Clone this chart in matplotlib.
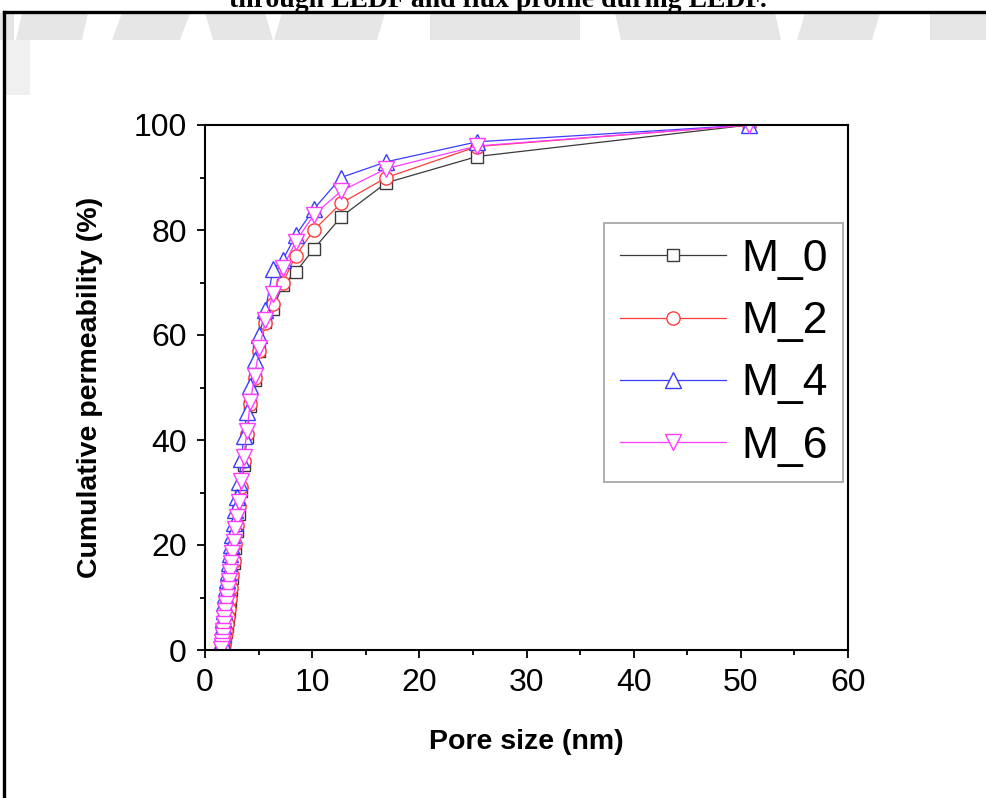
import matplotlib
matplotlib.use('Agg')
import matplotlib.pyplot as plt
from matplotlib.lines import Line2D
from matplotlib.patches import Polygon

plt.rcParams['font.family'] = ['Liberation Sans', 'DejaVu Sans']

# pore size grid (nm)
pore_size = [50.8, 25.4, 16.93, 12.7, 10.16, 8.47, 7.26, 6.35, 5.64, 5.08,
             4.62, 4.23, 3.91, 3.63, 3.39, 3.18, 2.99, 2.82, 2.67, 2.54,
             2.42, 2.31, 2.21, 2.12, 2.03, 1.95, 1.88, 1.81, 1.75, 1.69,
             1.64, 1.59, 1.54, 1.49]

m0 = [100, 94.0, 89.0, 82.5, 76.4, 72.0, 69.6, 65.0, 62.5, 57.0,
      51.5, 46.5, 40.5, 35.2, 30.2, 26.0, 22.6, 19.4, 16.5, 13.8,
      11.4, 9.3, 7.5, 5.9, 4.6, 3.4, 2.5, 1.7, 1.0, 0.5,
      0.2, 0.0, 0.0, 0.0]
m2 = [100, 95.9, 90.0, 85.1, 80.0, 75.1, 70.0, 65.9, 62.3, 57.0,
      51.8, 46.8, 41.2, 36.0, 31.0, 27.5, 23.8, 20.2, 17.0, 14.2,
      11.8, 9.7, 7.9, 6.3, 4.9, 3.7, 2.7, 1.9, 1.2, 0.7,
      0.3, 0.1, 0.0, 0.0]
m4 = [100, 96.8, 93.0, 90.0, 84.0, 79.0, 74.3, 72.5, 64.8, 60.0,
      55.2, 50.2, 45.4, 40.8, 36.3, 32.0, 29.2, 26.6, 24.2, 22.0,
      20.0, 18.2, 16.5, 14.9, 13.4, 11.9, 10.4, 8.9, 7.4, 5.9,
      4.5, 3.1, 1.8, 0.6]
m6 = [100, 96.0, 91.7, 87.4, 82.9, 77.8, 72.8, 67.8, 62.8, 57.5,
      52.2, 47.2, 41.8, 36.8, 32.2, 28.2, 25.4, 23.0, 20.6, 18.5,
      16.6, 14.8, 13.1, 11.6, 10.1, 8.7, 7.4, 6.1, 4.9, 3.7,
      2.6, 1.6, 0.8, 0.2]

series = [('M_0', m0, '#3a3a3a', 's', 9),
          ('M_2', m2, '#ff3c3c', 'o', 9.5),
          ('M_4', m4, '#3c3cff', '^', 11),
          ('M_6', m6, '#ff3cff', 'v', 11)]

W, H = 987, 798
fig = plt.figure(figsize=(W / 100, H / 100), dpi=100)


def fx(px):
    return px / W


def fy(py):
    return 1 - py / H


# page background: faint watermark band above the pasted figure
for x0, x1, sl in [(0, 14, 0), (22, 88, 6), (122, 190, 10), (205, 265, -8),
                   (282, 385, 8), (430, 580, 0), (615, 775, -6),
                   (805, 880, 8), (930, 987, 0)]:
    fig.patches.append(Polygon([(fx(x0), fy(13)), (fx(x1), fy(13)),
                                (fx(x1 - sl), fy(40)), (fx(x0 - sl), fy(40))],
                               closed=True, transform=fig.transFigure,
                               facecolor='#e6e6e6', edgecolor='none', zorder=0))
fig.patches.append(Polygon([(fx(6), fy(40)), (fx(30), fy(40)), (fx(30), fy(95)),
                            (fx(6), fy(95))], closed=True, transform=fig.transFigure,
                           facecolor='#f0f0f0', edgecolor='none', zorder=0))

# cut-off caption and page frame
fig.text(0.505, fy(7), 'through LEDF and flux profile during LEDF.',
         ha='center', va='baseline', fontsize=20, fontweight='bold',
         family=['Liberation Serif', 'DejaVu Serif'])
fig.lines.append(Line2D([fx(4), 1], [fy(12), fy(12)], transform=fig.transFigure,
                        color='black', lw=2.4))
fig.lines.append(Line2D([fx(4.5), fx(4.5)], [fy(12), 0], transform=fig.transFigure,
                        color='black', lw=2.4))

ax = fig.add_axes([fx(205), fy(650), (848 - 205) / W, (650 - 125) / H])

for name, vals, col, mk, ms in series:
    ax.plot(pore_size, vals, color=col, lw=0.9, marker=mk, ms=ms,
            mfc='white', mec=col, mew=1.0, label=name)

ax.set_xlim(0, 60)
ax.set_ylim(0, 100)
ax.set_xticks(range(0, 61, 10))
ax.set_xticks(range(5, 60, 10), minor=True)
ax.set_yticks(range(0, 101, 20))
ax.set_yticks(range(10, 100, 20), minor=True)
ax.tick_params(which='major', direction='out', length=6, width=1.3,
               labelsize=23, pad=7)
ax.tick_params(which='minor', direction='out', length=3.5, width=1.3)
for sp in ax.spines.values():
    sp.set_linewidth(1.5)

ax.set_xlabel('Pore size (nm)', fontsize=20.5, fontweight='bold', labelpad=22)
ax.set_ylabel('Cumulative permeability (%)', fontsize=20.5, fontweight='bold',
              labelpad=22)

leg = ax.legend(loc='upper right', bbox_to_anchor=(0.993, 0.813), borderaxespad=0,
                fontsize=32, frameon=True, fancybox=False, handlelength=2.4,
                handletextpad=0.34, labelspacing=0.48, borderpad=0.35)
leg.get_frame().set_edgecolor('#9a9a9a')
leg.get_frame().set_linewidth(1.4)

fig.savefig('out.png', dpi=100)
